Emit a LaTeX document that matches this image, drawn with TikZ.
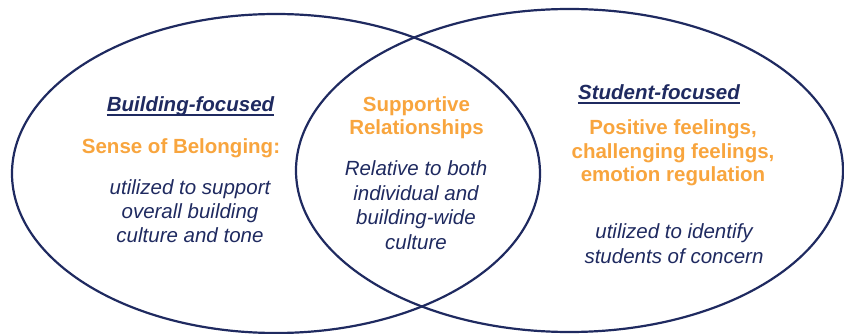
\documentclass[tikz,border=0pt]{standalone}
\usepackage{fontspec}
\setmainfont{Liberation Sans}
\definecolor{navy}{HTML}{1F2A60}
\definecolor{orng}{HTML}{F8A53E}
\begin{document}
\begin{tikzpicture}[x=1pt,y=-1pt,
  venn/.style={draw=navy,line width=2.2pt},
  head/.style={font=\fontsize{20.5}{24}\selectfont\bfseries\itshape, text=navy, inner sep=0pt, anchor=base},
  uline/.style={draw=navy,line width=1.4pt},
  key/.style={font=\fontsize{20.5}{23.5}\selectfont\bfseries, text=orng, inner sep=0pt, align=center, anchor=base},
  note/.style={font=\fontsize{20.5}{24.5}\selectfont\itshape, text=navy, inner sep=0pt, align=center, anchor=base}]
\useasboundingbox (0,0) rectangle (844,334);
% circles
\draw[venn] (276,173.5) ellipse [x radius=264pt, y radius=159.5pt];
\draw[venn] (569.5,170.5) ellipse [x radius=273.5pt, y radius=161.5pt];
% left (multi-line nodes: base = baseline of last line)
\node[head] (bhead) at (190.5,112) {Building-focused};
\draw[uline] ([yshift=-3pt]bhead.base west) -- ([yshift=-3pt]bhead.base east);
\node[key] (belong) at (181,154) {Sense of Belonging:};
\node[note] (bnote) at (190,243) {utilized to support\\overall building\\culture and tone};
% center
\node[key] (supp) at (416.5,135) {Supportive\\Relationships};
\node[note] (snote) at (416,249) {Relative to both\\individual and\\building-wide\\culture};
% right
\node[head] (shead) at (659,100) {Student-focused};
\draw[uline] ([yshift=-3pt]shead.base west) -- ([yshift=-3pt]shead.base east);
\node[key] (feel) at (673,182) {Positive feelings,\\challenging feelings,\\emotion regulation};
\node[note] (fnote) at (674,263) {utilized to identify\\students of concern};
\end{tikzpicture}
\end{document}
